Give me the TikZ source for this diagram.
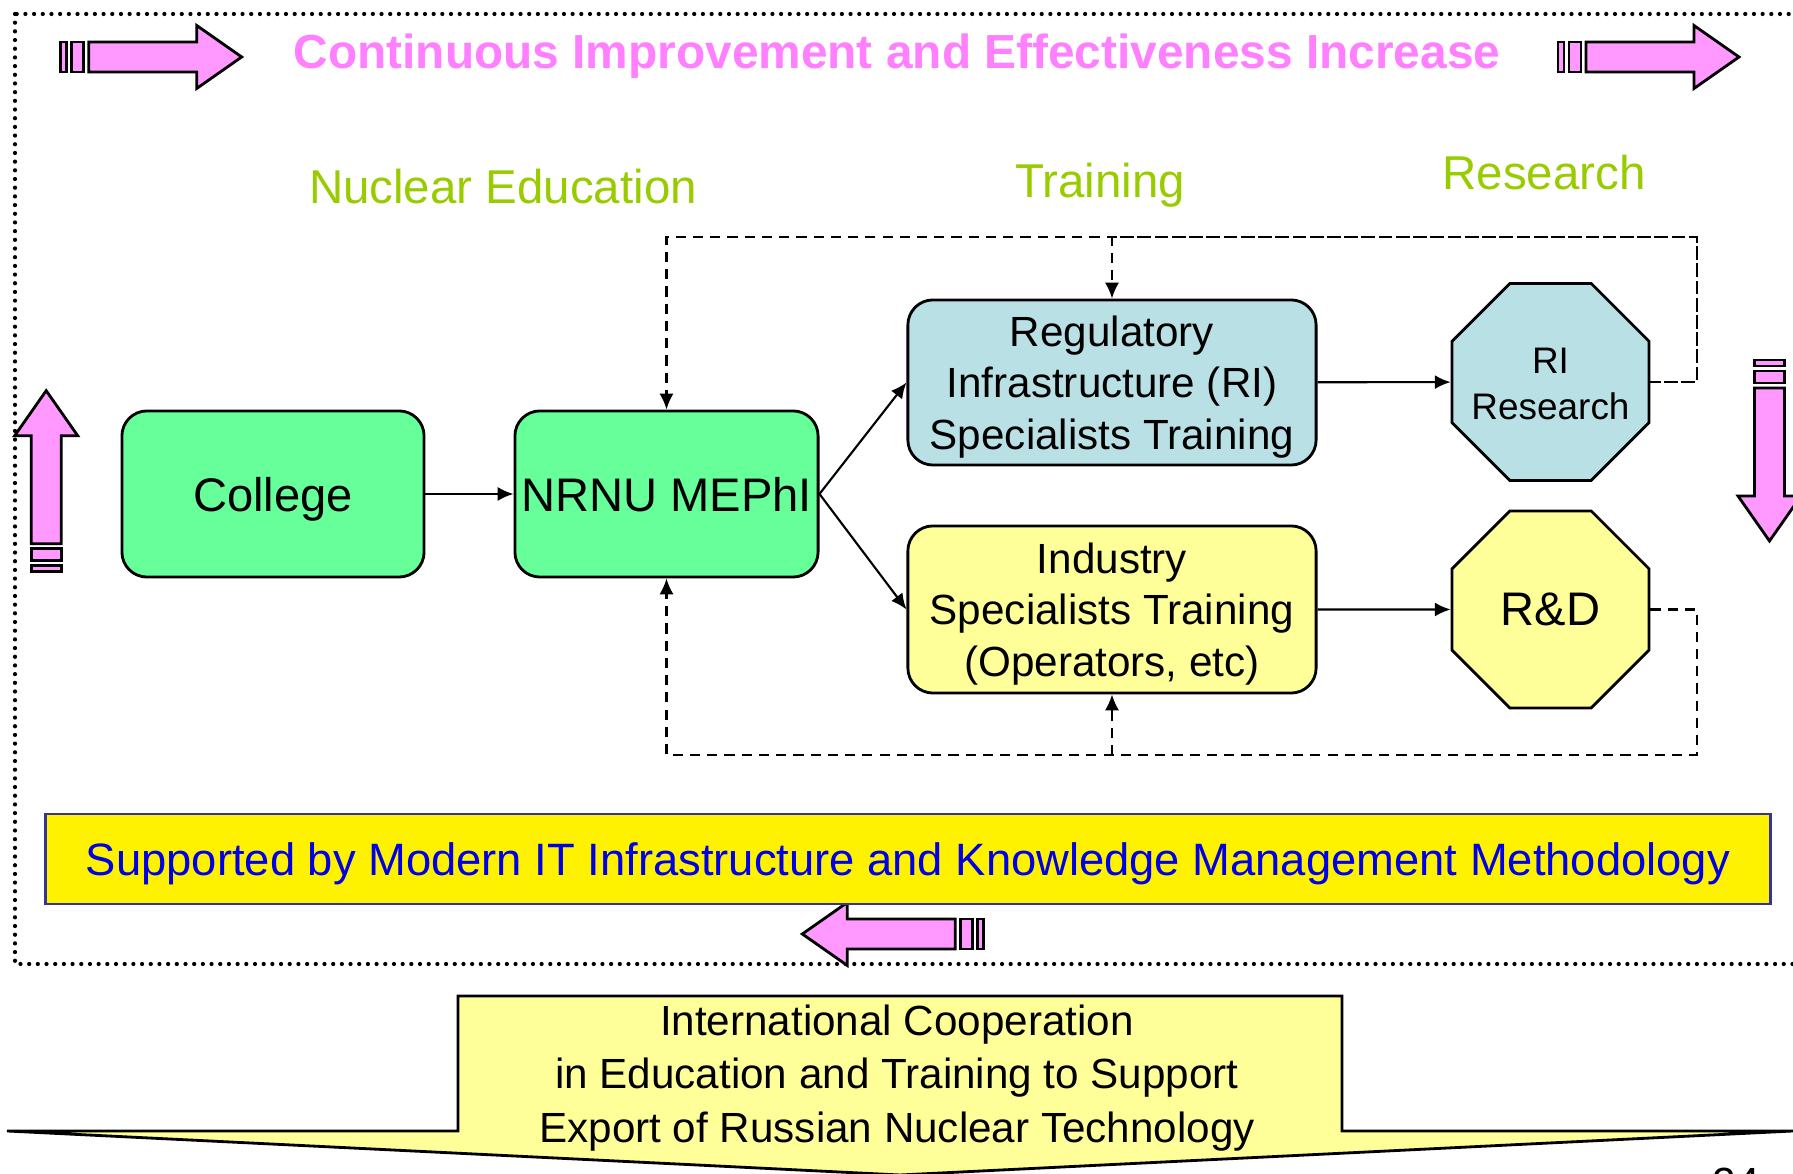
\documentclass[tikz,border=0pt]{standalone}
\usepackage{fontspec}
\setmainfont{Liberation Sans}
\usetikzlibrary{shapes.geometric, arrows.meta}

\definecolor{boxgreen}{RGB}{102,255,153}
\definecolor{boxblue}{RGB}{185,224,228}
\definecolor{paleyellow}{RGB}{255,255,153}
\definecolor{labelgreen}{RGB}{153,204,0}
\definecolor{pinkfill}{RGB}{255,153,255}
\definecolor{pinktext}{RGB}{255,128,255}
\definecolor{bannerblue}{RGB}{0,0,230}
\definecolor{bannerline}{RGB}{51,51,153}

\tikzset{
  stage/.style={draw, line width=0.8pt, rounded corners=0.25cm, inner sep=1pt, align=center, text depth=0pt},
  octa/.style={draw, line width=0.8pt, regular polygon, regular polygon sides=8,
    minimum size=2.13cm, inner sep=0pt, align=center},
  link/.style={line width=0.6pt, -{Latex[length=4.5pt, width=4pt]}},
  feedback/.style={line width=0.6pt, dash pattern=on 2.9pt off 2pt},
  stream/.style={text=labelgreen, font=\fontsize{13.5}{16}\selectfont, anchor=base},
  pinkarrow/.style={fill=pinkfill, draw=black, line width=0.8pt},
}

\begin{document}
\begin{tikzpicture}[x=0.01cm, y=-0.01cm]

    % Page size
    \useasboundingbox (0,0) rectangle (1793,1174);

    % Dotted frame round the cycle
    \draw[line width=1.2pt, line cap=round, dash pattern=on 0pt off 2.47pt] (15,14) rectangle (1815,964);

    % Block arrows round the frame
    \foreach \px/\py/\ang in {60.7/57/0, 1558/57/0, 46.2/571.7/90, 1769.5/360/-90, 983.3/934/180}
    {
      \begin{scope}[shift={(\px,\py)}, rotate=\ang]
        \filldraw[pinkarrow] (0,-15) rectangle (6,15);
        \filldraw[pinkarrow] (11,-15) rectangle (23,15);
        \filldraw[pinkarrow] (28,-15) -- (136,-15) -- (136,-31.5) -- (181,0)
          -- (136,31.5) -- (136,15) -- (28,15) -- cycle;
      \end{scope}
    }

    % Title
    \node[text=pinktext, font=\fontsize{13.6}{16}\selectfont\bfseries] (title) at (897,56)
      {Continuous Improvement and Effectiveness Increase};

    % Stream labels
    \node[stream] (edu) at (503,204) {Nuclear Education};
    \node[stream] (train) at (1100,198) {Training};
    \node[stream] (research) at (1544,190) {Research};

    % Main chain
    \node[stage, fill=boxgreen, minimum width=3.02cm, minimum height=1.66cm,
      font=\fontsize{13.4}{16}\selectfont] (college) at (273,494) {College};
    \node[stage, fill=boxgreen, minimum width=3.03cm, minimum height=1.66cm,
      font=\fontsize{13.4}{16}\selectfont] (mephi) at (666.5,494) {NRNU MEPhI};
    \node[stage, fill=boxblue, minimum width=4.08cm, minimum height=1.65cm,
      font=\fontsize{12}{14.7}\selectfont] (reg) at (1112,382.5)
      {Regulatory\\Infrastructure (RI)\\Specialists Training};
    \node[stage, fill=paleyellow, minimum width=4.08cm, minimum height=1.67cm,
      font=\fontsize{12}{14.7}\selectfont] (ind) at (1112,609.5)
      {Industry\\Specialists Training\\(Operators, etc)};
    \node[octa, fill=boxblue,
      label={[align=center, font=\fontsize{10.5}{13}\selectfont, yshift=-0.02cm]center:{RI\\Research}}]
      (riresearch) at (1550.5,382) {};
    \node[octa, fill=paleyellow, font=\fontsize{13.4}{16}\selectfont] (rnd) at (1550.5,609.5)
      {R\&D};

    \draw[link] (college) -- (mephi);
    \draw[link] (mephi.east) -- (reg.west);
    \draw[link] (mephi.east) -- (ind.west);
    \draw[link] (reg) -- (riresearch);
    \draw[link] (ind) -- (rnd);

    % Feedback loops
    \coordinate (topright) at (1697,237);
    \coordinate (botright) at (1697,755);
    \draw[feedback, link] (riresearch.east) -| (topright) -| (reg.north);
    \draw[feedback, link, dash phase=1pt] (riresearch.east) -| (topright) -| (mephi.north);
    \draw[feedback, link] (rnd.east) -| (botright) -| (mephi.south);
    \draw[feedback, link] (ind.south |- botright) -- (ind.south);

    % IT banner
    \node[draw=bannerline, line width=0.8pt, fill=yellow, text=bannerblue,
      minimum width=17.24cm, minimum height=0.9cm, text depth=0pt,
      font=\fontsize{12.9}{15}\selectfont] (itbar) at (908,859)
      {Supported by Modern IT Infrastructure and Knowledge Management Methodology};

    % International cooperation callout
    \filldraw[fill=paleyellow, draw=black, line width=0.8pt]
      (458,996) -- (1342,996) -- (1342,1131) -- (1793,1131) -- (900,1175)
      -- (7,1131) -- (458,1131) -- cycle;
    \node[align=center, font=\fontsize{12}{15.3}\selectfont] (coop) at (897,1078)
      {International Cooperation\\in Education and Training to Support\\Export of Russian Nuclear Technology};

    % Page number
    \node[anchor=base west, inner sep=0pt, font=\fontsize{12}{14}\selectfont] (page) at (1712,1198) {24};

\end{tikzpicture}
\end{document}
